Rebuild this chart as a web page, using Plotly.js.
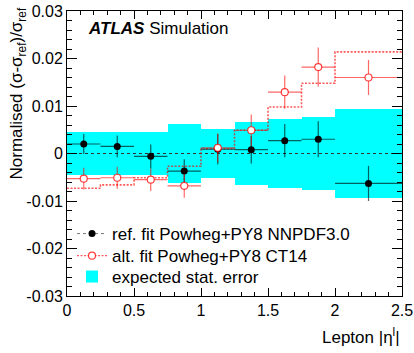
<!DOCTYPE html>
<html>
<head>
<meta charset="utf-8">
<script src="https://cdn.plot.ly/plotly-3.0.1.min.js"></script>
<style>html,body{margin:0;padding:0;background:#fff;}#chart{width:414px;height:353px;}</style>
</head>
<body>
<div id="chart"></div>
<script>
// Bin edges in lepton |eta|
var binEdges = [0, 0.25, 0.5, 0.75, 1.0, 1.25, 1.5, 1.75, 2.0, 2.5];
// Reference fit (Powheg+PY8 NNPDF3.0) pseudo-data points
var refValues = [0.0020, 0.0015, -0.0006, -0.0037, 0.0009, 0.0008, 0.0027, 0.0030, -0.0063];
var refErrors = [0.0021, 0.0023, 0.0025, 0.0025, 0.0032, 0.0029, 0.0035, 0.0038, 0.0037];
// Alternative fit (Powheg+PY8 CT14) points
var altValues = [-0.0053, -0.0051, -0.0055, -0.0068, 0.0012, 0.0049, 0.0129, 0.0182, 0.0160];
var altErrors = [0.0023, 0.0023, 0.0024, 0.0025, 0.0030, 0.0033, 0.0035, 0.0041, 0.0037];
// Alternative prediction (dotted step)
var altStep = [-0.0073, -0.0066, -0.0051, -0.0027, 0.0010, 0.0049, 0.0098, 0.0148, 0.0214];
// Reference prediction (dashed step)
var refStep = [0, 0, 0, 0, 0, 0, 0, 0, 0];
// Expected statistical error (half-width of band)
var statError = [0.0046, 0.0046, 0.0046, 0.0062, 0.0051, 0.0067, 0.0073, 0.0077, 0.0094];
// Tick labels
var yTickVals = [-0.03, -0.02, -0.01, 0, 0.01, 0.02, 0.03];
var yTickText = ["-0.03", "-0.02", "-0.01", "0", "0.01", "0.02", "0.03"];
var xTickVals = [0, 0.5, 1, 1.5, 2, 2.5];
var xTickText = ["0", "0.5", "1", "1.5", "2", "2.5"];
// Legend labels
var legendNames = ["ref. fit Powheg+PY8 NNPDF3.0", "alt. fit Powheg+PY8 CT14", "expected stat. error"];

var centers = [], halfW = [], widths = [];
for (var i = 0; i < binEdges.length - 1; i++) {
  centers.push((binEdges[i] + binEdges[i+1]) / 2);
  widths.push(binEdges[i+1] - binEdges[i]);
  halfW.push((binEdges[i+1] - binEdges[i]) / 2);
}
function stepY(v) { return v.concat([v[v.length-1]]); }

var FONT = "Liberation Sans, Arial, Helvetica, sans-serif";

var traces = [
  {
    type: 'bar', x: centers, width: widths,
    base: statError.map(function(e){return -e;}),
    y: statError.map(function(e){return 2*e;}),
    marker: {color: '#00ffff', line: {width: 0}},
    name: legendNames[2], legend: 'legend3', hoverinfo: 'skip'
  },
  {
    type: 'scatter', mode: 'lines', x: binEdges, y: stepY(refStep),
    line: {shape: 'hv', color: '#333333', width: 1, dash: '3px,3px'},
    showlegend: false
  },
  {
    type: 'scatter', mode: 'lines', x: binEdges, y: stepY(altStep),
    line: {shape: 'hv', color: 'rgba(255,0,0,0.65)', width: 1.6, dash: '2px,1.5px'},
    showlegend: false
  },
  {
    type: 'scatter', mode: 'markers', x: centers, y: refValues,
    marker: {symbol: 'circle', size: 7, color: '#000000'},
    error_y: {type: 'data', array: refErrors, visible: true, color: 'rgba(0,0,0,0.62)', thickness: 1.2, width: 0},
    error_x: {type: 'data', array: halfW, visible: true, color: 'rgba(0,0,0,0.62)', thickness: 1.2, width: 0},
    showlegend: false
  },
  {
    type: 'scatter', mode: 'markers', x: centers, y: altValues,
    marker: {symbol: 'circle', size: 7, color: '#ffffff', line: {color: 'rgba(255,0,0,0.75)', width: 1.2}},
    error_y: {type: 'data', array: altErrors, visible: true, color: 'rgba(255,0,0,0.6)', thickness: 1.2, width: 0},
    error_x: {type: 'data', array: halfW, visible: true, color: 'rgba(255,0,0,0.6)', thickness: 1.2, width: 0},
    showlegend: false
  },
  {
    type: 'scatter', mode: 'lines+markers', x: [null], y: [null],
    line: {color: '#777777', width: 1, dash: '3px,3px'},
    marker: {symbol: 'circle', size: 7, color: '#000000'},
    name: legendNames[0], legend: 'legend'
  },
  {
    type: 'scatter', mode: 'lines+markers', x: [null], y: [null],
    line: {color: 'rgba(255,0,0,0.65)', width: 1.2, dash: '2px,1.5px'},
    marker: {symbol: 'circle', size: 7, color: '#ffffff', line: {color: 'rgba(255,0,0,0.75)', width: 1.2}},
    name: legendNames[1], legend: 'legend2'
  }
];

var axisCommon = {
  showgrid: false, zeroline: false, showline: true, linecolor: '#000', linewidth: 1,
  mirror: 'allticks', ticks: 'inside', tickcolor: '#000', tickwidth: 1,
  tickfont: {family: FONT, size: 16, color: '#000'}
};

function legendAt(yc) {
  return {
    x: 0.015, y: yc, xanchor: 'left', yanchor: 'middle',
    bgcolor: 'rgba(0,0,0,0)', borderwidth: 0,
    font: {family: FONT, size: 17, color: '#000'},
    itemwidth: 30
  };
}

var layout = {
  width: 414, height: 353,
  margin: {l: 67, r: 12, t: 11, b: 57},
  paper_bgcolor: '#fff', plot_bgcolor: '#fff',
  font: {family: FONT, color: '#000'},
  barmode: 'overlay', bargap: 0,
  showlegend: true,
  legend: legendAt(0.2175),
  legend2: legendAt(0.140),
  legend3: legendAt(0.0667),
  xaxis: Object.assign({}, axisCommon, {
    range: [0, 2.5], tickvals: xTickVals, ticktext: xTickText, ticklen: 8,
    minor: {dtick: 0.1, ticklen: 4, tickcolor: '#000', ticks: 'inside'}
  }),
  yaxis: Object.assign({}, axisCommon, {
    range: [-0.03, 0.03], tickvals: yTickVals, ticktext: yTickText, ticklen: 10,
    minor: {dtick: 0.002, ticklen: 5, tickcolor: '#000', ticks: 'inside'}
  }),
  annotations: [
    {
      xref: 'paper', yref: 'paper', x: 0.057, y: 0.937, xanchor: 'left', yanchor: 'middle',
      text: '<b><i>ATLAS</i></b> Simulation', showarrow: false,
      font: {family: FONT, size: 17, color: '#000'}
    },
    {
      xref: 'paper', yref: 'paper', x: -0.145, y: 1.021, xanchor: 'center', yanchor: 'top',
      text: 'Normalised (σ-σ<sub>ref</sub>)/σ<sub>ref</sub>', textangle: -90, showarrow: false,
      font: {family: FONT, size: 17, color: '#000'}
    },
    {
      xref: 'paper', yref: 'paper', x: 1, y: -0.14, xanchor: 'right', yanchor: 'middle',
      text: 'Lepton |η<sup>l</sup>|', showarrow: false,
      font: {family: FONT, size: 17, color: '#000'}
    }
  ]
};

Plotly.newPlot('chart', traces, layout, {staticPlot: true, displayModeBar: false});
</script>
</body>
</html>
